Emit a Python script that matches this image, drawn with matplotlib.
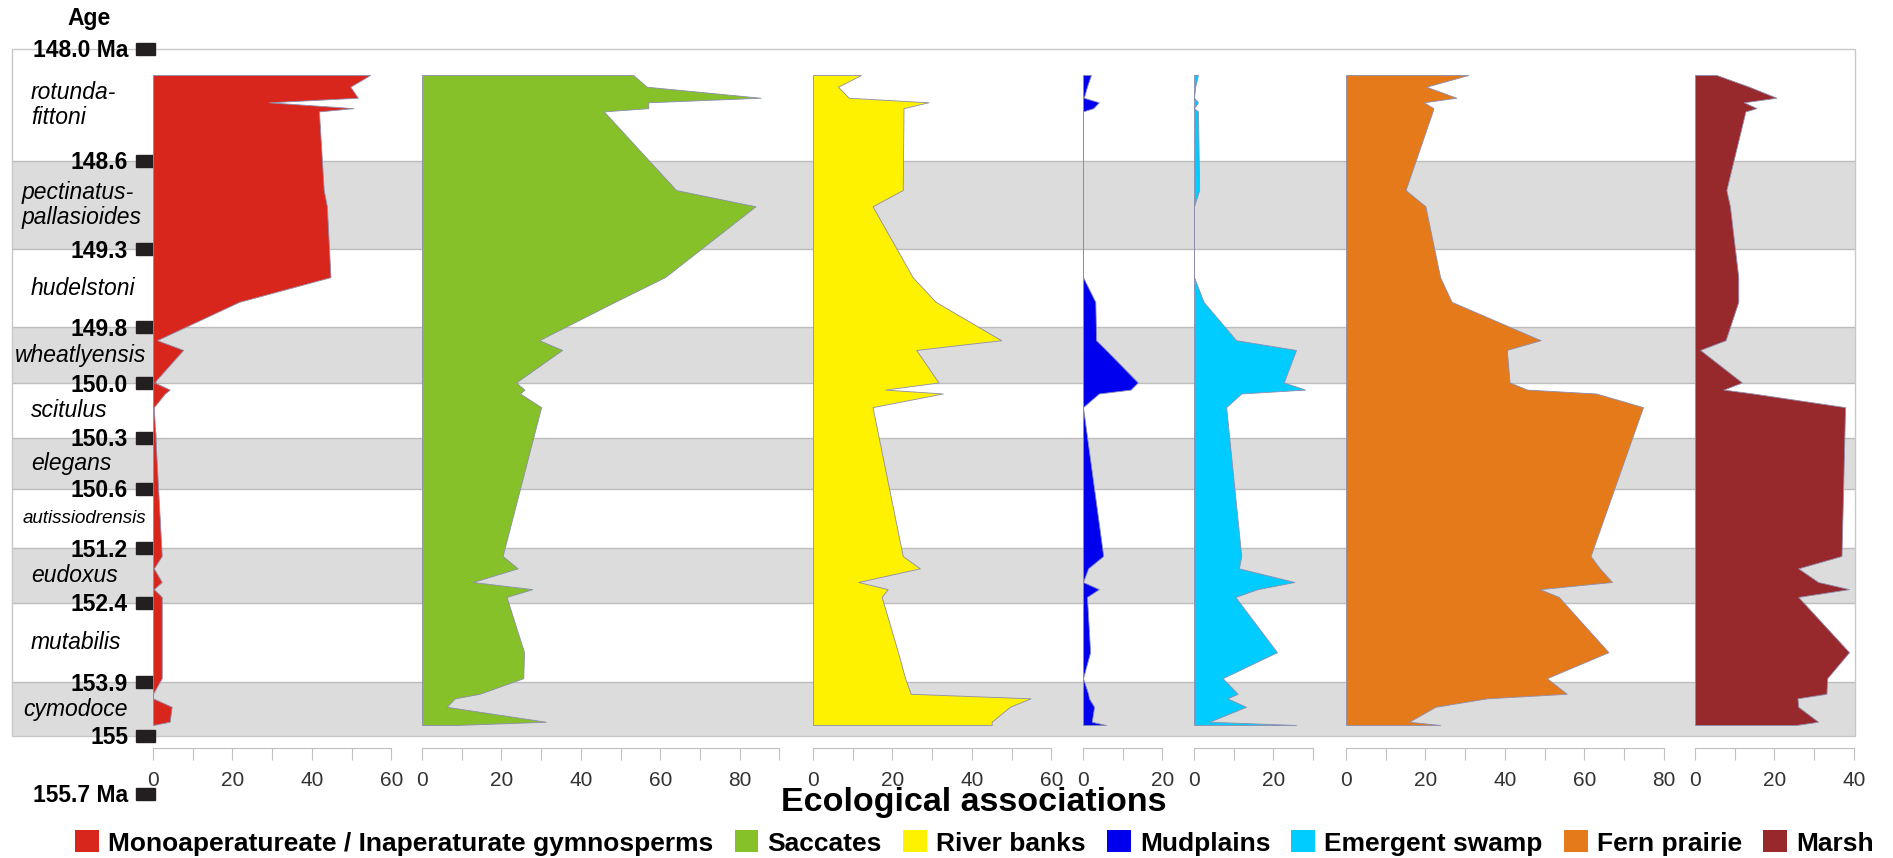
import matplotlib.pyplot as plt
from matplotlib.patches import Rectangle, Patch

plt.rcParams['font.family'] = ['Liberation Sans', 'DejaVu Sans']

# sample positions in the section (0 = top sample, 100 = base sample)
depth = [0, 1.8, 3.5, 4.2, 5.1, 5.6, 17.7, 20.2, 31.1, 34.9, 40.8, 42.3, 47.3, 48.4,
         49.0, 51.1, 74.0, 75.9, 78.0, 79.1, 80.3, 88.8, 92.8, 95.2, 95.9, 97.2, 99.5, 100]

# relative abundances (%)
gymnosperms = [54.7, 49.7, 51.6, 29.2, 50.5, 41.8, 43.0, 43.8, 44.7, 21.7, 1.0, 7.6, 0.3, 4.2,
               3.0, 0.2, 2.2, 0.2, 2.2, 0.2, 2.2, 2.2, 2.2, 0.0, 0.0, 4.7, 4.2, 0.0]
saccates = [53.2, 56.6, 85.3, 57.0, 57.0, 45.8, 64.0, 84.0, 61.2, 48.6, 29.5, 35.3, 23.7, 25.8,
            24.7, 30.0, 20.3, 24.1, 12.8, 27.8, 21.3, 25.7, 25.5, 14.5, 8.3, 6.2, 31.2, 8.7]
river_banks = [12.1, 6.3, 9.0, 29.1, 22.8, 22.8, 22.6, 15.0, 25.1, 30.9, 47.4, 26.0, 31.6, 18.2,
               32.7, 15.0, 22.6, 26.9, 11.4, 18.8, 17.3, 21.4, 23.2, 24.6, 54.8, 49.6, 45.0, 45.0]
mudplains = [2.0, 1.0, 0.2, 4.0, 2.6, 0.0, 0.0, 0.0, 0.0, 3.1, 3.3, 5.8, 13.8, 12.0,
             4.0, 0.0, 5.1, 1.3, 0.0, 4.0, 1.0, 1.8, 0.0, 1.3, 1.5, 2.8, 2.2, 5.8]
emergent_swamp = [1.0, 0.3, 0.0, 1.0, 0.0, 1.0, 1.3, 0.0, 0.0, 2.4, 10.6, 25.7, 22.6, 28.0,
                  11.9, 8.1, 11.9, 11.3, 25.3, 16.0, 10.4, 20.9, 7.2, 11.0, 8.4, 13.1, 3.9, 25.7]
fern_prairie = [30.8, 20.2, 27.8, 19.6, 22.0, 21.8, 15.0, 20.0, 23.7, 26.6, 49.0, 40.5, 41.2, 45.6,
                63.0, 74.8, 61.6, 63.9, 67.0, 48.8, 53.6, 66.1, 50.6, 55.6, 35.5, 22.5, 15.9, 23.7]
marsh = [5.4, 13.6, 20.5, 12.3, 15.5, 12.7, 7.9, 8.8, 10.9, 10.9, 7.7, 1.3, 11.8, 7.2,
         14.6, 37.8, 36.9, 26.0, 31.0, 38.8, 26.0, 38.8, 33.3, 33.1, 25.8, 26.0, 31.0, 25.5]

series = [gymnosperms, saccates, river_banks, mudplains, emergent_swamp, fern_prairie, marsh]
names = ['Monoaperatureate / Inaperaturate gymnosperms', 'Saccates', 'River banks',
         'Mudplains', 'Emergent swamp', 'Fern prairie', 'Marsh']
colors = ['#d9261c', '#86c12a', '#fff200', '#0000ee', '#00ccff', '#e47a1a', '#97282c']
axis_max = [60, 90, 60, 20, 30, 80, 40]

# ammonite zones
zone_bounds = [-4.0, 13.2, 26.8, 38.8, 47.4, 55.8, 63.7, 72.8, 81.2, 93.4, 101.7]
bound_ages = ['148.0 Ma', '148.6', '149.3', '149.8', '150.0', '150.3', '150.6',
              '151.2', '152.4', '153.9', '155']
zone_names = ['rotunda-\nfittoni', 'pectinatus-\npallasioides', 'hudelstoni', 'wheatlyensis',
              'scitulus', 'elegans', 'autissiodrensis', 'eudoxus', 'mutabilis', 'cymodoce']
base_age, base_pos = '155.7 Ma', 110.6

W, H = 1893, 858
fig = plt.figure(figsize=(W / 100, H / 100), dpi=100)
ylim = (103.54, -4.0)


def px_axes(x0, x1, y0=49, y1=748):
    return fig.add_axes([x0 / W, 1 - y1 / H, (x1 - x0) / W, (y1 - y0) / H])


# background: zone bands, frame, zone names and ages
bg = px_axes(12, 1855)
bg.set_xlim(12, 1855)
bg.set_ylim(*ylim)
bg.axis('off')
for i in range(len(zone_names)):
    if i % 2 == 1:
        bg.axhspan(zone_bounds[i], zone_bounds[i + 1], color='#dcdcdc', lw=0, zorder=0)
bg.hlines(zone_bounds[1:-1], 12, 1855, color='#bdbdbd', lw=1, zorder=1)
bg.add_patch(Rectangle((12, zone_bounds[0]), 1843, zone_bounds[-1] - zone_bounds[0],
                       fill=False, ec='#c8c8c8', lw=1, clip_on=False, zorder=1))

name_x = {'pectinatus-\npallasioides': 22, 'wheatlyensis': 15, 'autissiodrensis': 23, 'cymodoce': 23}
for i, nm in enumerate(zone_names):
    mid = (zone_bounds[i] + zone_bounds[i + 1]) / 2
    fs = 13.5 if nm == 'autissiodrensis' else 16.5
    bg.text(name_x.get(nm, 31), mid, nm, style='italic', fontsize=fs, ha='left', va='center',
            linespacing=1.12, zorder=3)

for pos, lab in list(zip(zone_bounds, bound_ages)) + [(base_pos, base_age)]:
    bg.add_patch(Rectangle((136, pos - 0.92), 19, 1.84, color='#231f20', clip_on=False, zorder=4))
    bg.text(128, pos + 0.3, lab, fontsize=16.5, weight='bold', ha='right', va='center',
            clip_on=False, zorder=4)

fig.text(89 / W, 1 - 18 / H, 'Age', fontsize=16.5, weight='bold', ha='center', va='center')

# one panel per association
x_starts = [153, 422, 813, 1083, 1194, 1346, 1695]
for vals, col, xmax, x0 in zip(series, colors, axis_max, x_starts):
    ax = px_axes(x0, x0 + xmax * 3.97)
    ax.set_xlim(0, xmax)
    ax.set_ylim(*ylim)
    ax.patch.set_visible(False)
    ax.fill_betweenx(depth, 0, vals, facecolor=col, edgecolor='#8c8cae', lw=0.6)
    for s in ['top', 'left', 'right']:
        ax.spines[s].set_visible(False)
    ax.spines['bottom'].set_color('#c0c0c0')
    ax.set_yticks([])
    ax.set_xticks(range(0, xmax + 1, 20))
    ax.set_xticks(range(0, xmax + 1, 10), minor=True)
    ax.tick_params(axis='x', which='both', length=8.5, color='#c0c0c0', width=0.8)
    ax.tick_params(axis='x', labelsize=15, labelcolor='#333333', pad=8)

fig.text(974 / W, 1 - 802 / H, 'Ecological associations', fontsize=24.5, weight='bold',
         ha='center', va='center')

handles = [Patch(facecolor=c, edgecolor='none', label=n) for c, n in zip(colors, names)]
fig.legend(handles=handles, loc='center', bbox_to_anchor=(974.5 / W, 1 - 843 / H), ncol=7,
           frameon=False, prop={'weight': 'bold', 'size': 19}, handlelength=0.9,
           handleheight=0.9, handletextpad=0.35, columnspacing=0.8, borderaxespad=0)

fig.savefig('out.png', dpi=100)
